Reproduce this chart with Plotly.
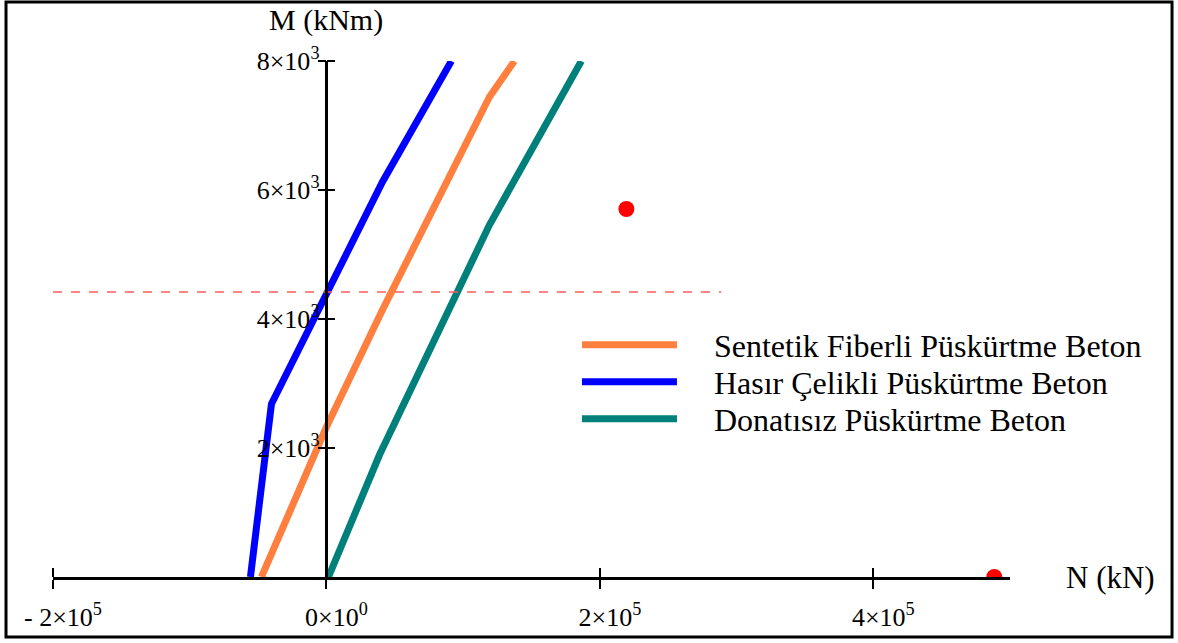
import plotly.graph_objects as go

# Interaction diagram data: axial force N (kN) vs bending moment M (kNm)
sentetik_n = [-47530, 0, 40950, 119200, 137480]
sentetik_m = [0, 2325, 4140, 7442, 8000]

hasir_n = [-55580, -40220, 40950, 91410]
hasir_m = [0, 2682, 6124, 8000]

donatisiz_n = [1460, 38760, 119200, 186470]
donatisiz_m = [0, 1891, 5457, 8000]

load_n = [219400, 488500]
load_m = [5705, 0]

limit_n = [-200000, 288800]
limit_m = [4420, 4420]

x_ticks = [-200000, 0, 200000, 400000]
x_tick_text = ["- 2\u00d710<sup>5</sup>", "0\u00d710<sup>0</sup>",
               "2\u00d710<sup>5</sup>", "4\u00d710<sup>5</sup>"]
y_ticks = [2000, 4000, 6000, 8000]
y_tick_text = ["2\u00d710<sup>3</sup>", "4\u00d710<sup>3</sup>",
               "6\u00d710<sup>3</sup>", "8\u00d710<sup>3</sup>"]

x_range = [-200000, 500000]
y_range = [0, 8000]

SERIF = "Liberation Serif, Times New Roman, serif"
GAP = "\u00a0" * 4  # space between legend line sample and its label

fig = go.Figure()

fig.add_trace(go.Scatter(x=sentetik_n, y=sentetik_m, mode="lines",
                         name=GAP + "Sentetik Fiberli Püskürtme Beton",
                         legend="legend",
                         line=dict(color="#ff7f3f", width=7)))
fig.add_trace(go.Scatter(x=hasir_n, y=hasir_m, mode="lines",
                         name=GAP + "Hasır Çelikli Püskürtme Beton",
                         legend="legend2",
                         line=dict(color="#0000ff", width=7)))
fig.add_trace(go.Scatter(x=donatisiz_n, y=donatisiz_m, mode="lines",
                         name=GAP + "Donatısız Püskürtme Beton",
                         legend="legend3",
                         line=dict(color="#00807a", width=7)))
fig.add_trace(go.Scatter(x=load_n, y=load_m, mode="markers",
                         marker=dict(color="#ff0000", size=16),
                         showlegend=False, cliponaxis=True))
# dashed reference level, drawn on the overlay axes (same scale as x/y)
fig.add_trace(go.Scatter(x=limit_n, y=limit_m, mode="lines",
                         xaxis="x2", yaxis="y2",
                         line=dict(color="#ff5c5c", width=1.5, dash="9px,9px"),
                         showlegend=False, hoverinfo="skip"))

tick_font = dict(family=SERIF, size=26, color="black")
legend_font = dict(family=SERIF, size=32, color="black")


def legend_at(y):
    return dict(x=0.5475, y=y, xanchor="left", yanchor="middle",
                bgcolor="rgba(0,0,0,0)", itemwidth=95, font=legend_font)


fig.update_layout(
    width=1178, height=643,
    margin=dict(l=53, r=168, t=61, b=66),
    paper_bgcolor="white", plot_bgcolor="white",
    font=dict(family=SERIF, color="black"),
    xaxis=dict(range=x_range, showgrid=False, zeroline=False,
               showline=True, linecolor="black", linewidth=2.5,
               tickmode="array", tickvals=x_ticks, ticktext=x_tick_text,
               ticks="outside", ticklen=9, tickwidth=2, tickcolor="black",
               tickfont=tick_font, ticklabelstandoff=6, ticklabelshift=10),
    xaxis2=dict(matches="x", overlaying="x", anchor="free", position=0,
                side="top", showgrid=False, zeroline=False, showline=False,
                tickmode="array", tickvals=x_ticks, showticklabels=False,
                ticks="outside", ticklen=9, tickwidth=2, tickcolor="black"),
    yaxis=dict(range=y_range, showgrid=False, zeroline=False,
               anchor="free", position=2 / 7,
               showline=True, linecolor="black", linewidth=2.5,
               tickmode="array", tickvals=y_ticks, ticktext=y_tick_text,
               ticks="outside", ticklen=8, tickwidth=2, tickcolor="black",
               tickfont=tick_font, ticklabelstandoff=-7),
    yaxis2=dict(matches="y", overlaying="y", anchor="free", position=2 / 7,
                side="right", showgrid=False, zeroline=False, showline=False,
                tickmode="array", tickvals=y_ticks, showticklabels=False,
                ticks="outside", ticklen=8, tickwidth=2, tickcolor="black"),
    legend=legend_at(0.4496),
    legend2=legend_at(0.3779),
    legend3=legend_at(0.3062),
    annotations=[
        dict(text="M (kNm)", x=0, xref="x", y=1.0795, yref="paper",
             xanchor="center", yanchor="middle", showarrow=False,
             font=dict(family=SERIF, size=30, color="black")),
        dict(text="N (kN)", x=1.1045, xref="paper", y=0, yref="paper",
             xanchor="center", yanchor="middle", showarrow=False,
             font=dict(family=SERIF, size=31, color="black")),
    ],
    shapes=[
        dict(type="rect", xref="paper", yref="paper",
             x0=-0.0491, x1=1.1693, y0=-0.1163, y1=1.1143,
             line=dict(color="black", width=3), fillcolor="rgba(0,0,0,0)"),
    ],
)

fig.write_html("out.html")
